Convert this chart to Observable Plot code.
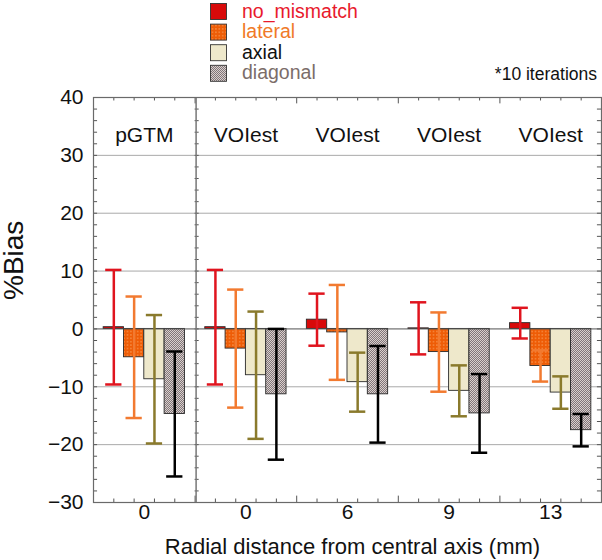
<!DOCTYPE html>
<html><head><meta charset="utf-8">
<script src="https://cdn.jsdelivr.net/npm/d3@7"></script>
<script src="https://cdn.jsdelivr.net/npm/@observablehq/plot@0.6"></script>
<style>
body{margin:0;background:#fff;font-family:"Liberation Sans",Arial,Helvetica,sans-serif;}
#wrap{width:602px;position:relative;}
svg{display:block;}
#head svg{overflow:visible;position:relative;z-index:2;}
</style></head><body>
<svg width="0" height="0" style="position:absolute">
  <defs>
    <pattern id="pLat" width="3.4" height="3.4" patternUnits="userSpaceOnUse">
      <rect width="3.4" height="3.4" fill="#ee5c06"/>
      <circle cx="1.7" cy="1.7" r="0.65" fill="#fbb57a"/>
    </pattern>
    <pattern id="pDiag" width="2" height="2" patternUnits="userSpaceOnUse">
      <rect width="2" height="2" fill="#d9d0cc"/>
      <rect width="1" height="1" fill="#81757a"/>
      <rect x="1" y="1" width="1" height="1" fill="#81757a"/>
    </pattern>
  </defs>
</svg>
<div id="wrap"><div id="head"></div><div id="chart"></div></div>
<script>
// ---- data ----
const groups = ["0", "0", "6", "9", "13"];
const methods = ["pGTM", "VOIest", "VOIest", "VOIest", "VOIest"];
const series = ["no_mismatch", "lateral", "axial", "diagonal"];
const mean_no_mismatch = [0.3, 0.3, 1.6, 0.1, 1.0];
const sd_no_mismatch   = [9.9, 9.9, 4.5, 4.5, 2.65];
const mean_lateral = [-4.9, -3.4, -0.6, -4.0, -6.4];
const sd_lateral   = [10.5, 10.2, 8.2, 6.85, 2.7];
const mean_axial = [-8.7, -8.0, -9.2, -10.7, -11.0];
const sd_axial   = [11.1, 11.0, 5.1, 4.4, 2.8];
const mean_diagonal = [-14.7, -11.3, -11.3, -14.6, -17.5];
const sd_diagonal   = [10.8, 11.3, 8.35, 6.8, 2.8];
const yTicks = [-30, -20, -10, 0, 10, 20, 30, 40];
const note = "*10 iterations";
const xTitle = "Radial distance from central axis (mm)";
const yTitle = "%Bias";

// ---- styles ----
const fills = {no_mismatch: "#d80a0a", lateral: "url(#pLat)", axial: "#eee8cb", diagonal: "url(#pDiag)"};
const errColors = {no_mismatch: "#e0141e", lateral: "#f27a30", axial: "#8a7a2c", diagonal: "#000000"};
const legendText = {no_mismatch: "#e8192c", lateral: "#f07a28", axial: "#111111", diagonal: "#7b6d69"};

const means = {no_mismatch: mean_no_mismatch, lateral: mean_lateral, axial: mean_axial, diagonal: mean_diagonal};
const sds = {no_mismatch: sd_no_mismatch, lateral: sd_lateral, axial: sd_axial, diagonal: sd_diagonal};

const nG = groups.length, nS = series.length, slots = nS + 1;
const rows = [];
series.forEach((s, si) => groups.forEach((g, gi) => {
  rows.push({s, si, gi, c: gi * slots + si + 1, mean: means[s][gi], sd: sds[s][gi]});
}));
const xMax = nG * slots;
const yMin = d3.min(yTicks), yMax = d3.max(yTicks);
const dividers = [];
for (let i = 1; i < nG; i++) if (methods[i] !== methods[i - 1]) dividers.push(i * slots);

// ---- header (legend + note) ----
const head = d3.select("#head").append("svg").attr("width", 602).attr("height", 85);
series.forEach((s, i) => {
  const top = 3 + i * 20.6;
  head.append("rect").attr("x", 210.5).attr("y", top + 0.5).attr("width", 16).attr("height", 16)
    .attr("fill", fills[s]).attr("stroke", "#333").attr("stroke-width", 0.9);
  head.append("text").attr("x", 242).attr("y", top + 14.5).attr("font-size", 19.5)
    .attr("fill", legendText[s]).text(s);
});
head.append("text").attr("x", 597).attr("y", 80).attr("text-anchor", "end")
  .attr("font-size", 17.5).attr("fill", "#111").text(note);

// ---- chart ----
const marks = [];
// gridlines
marks.push(Plot.ruleY(yTicks.filter(v => v !== 0 && v !== yMin && v !== yMax), {stroke: "#a9a9a9", strokeWidth: 1}));
// bars
series.forEach(s => {
  marks.push(Plot.rect(rows.filter(r => r.s === s), {
    x1: r => r.c - 0.5, x2: r => r.c + 0.5, y1: 0, y2: "mean",
    fill: fills[s], stroke: "#2a2a2a", strokeWidth: 0.9
  }));
});
// zero line
marks.push(Plot.ruleY([0], {stroke: "#505050", strokeWidth: 1}));
// error bars
series.forEach(s => {
  const d = rows.filter(r => r.s === s);
  const st = {stroke: errColors[s], strokeWidth: 2.5};
  marks.push(Plot.ruleX(d, {x: "c", y1: r => r.mean - r.sd, y2: r => r.mean + r.sd, ...st}));
  marks.push(Plot.ruleY(d, {y: r => r.mean + r.sd, x1: r => r.c - 0.4, x2: r => r.c + 0.4, ...st}));
  marks.push(Plot.ruleY(d, {y: r => r.mean - r.sd, x1: r => r.c - 0.4, x2: r => r.c + 0.4, ...st}));
});
// inward ticks
const xt = d3.range(1, xMax);
const minorX = xt.filter(v => v % slots !== 0), majorX = xt.filter(v => v % slots === 0);
const tickSt = {stroke: "#555", strokeWidth: 1};
marks.push(Plot.ruleX(minorX, {x: d => d, y1: yMin, y2: yMin + 0.6, ...tickSt}));
marks.push(Plot.ruleX(minorX, {x: d => d, y1: yMax, y2: yMax - 0.6, ...tickSt}));
marks.push(Plot.ruleX(majorX, {x: d => d, y1: yMin, y2: yMin + 1.1, ...tickSt}));
marks.push(Plot.ruleX(majorX, {x: d => d, y1: yMax, y2: yMax - 1.1, ...tickSt}));
const yt = d3.range(yMin + 2, yMax, 2);
marks.push(Plot.ruleY(yt, {y: d => d, x1: 0, x2: 0.2, ...tickSt}));
marks.push(Plot.ruleY(yt, {y: d => d, x1: xMax - 0.2, x2: xMax, ...tickSt}));
dividers.forEach(dv => marks.push(Plot.ruleY(yt, {y: d => d, x1: dv, x2: dv + 0.2, ...tickSt})));
// frame + dividers
marks.push(Plot.ruleX(dividers, {x: d => d, stroke: "#777", strokeWidth: 1.5, dx: 1}));
marks.push(Plot.frame({stroke: "#6a6a6a", strokeWidth: 1.2}));
// method labels
marks.push(Plot.text(d3.range(nG), {x: i => i * slots + slots / 2, text: i => methods[i], frameAnchor: "top", dy: 30, fontSize: 21, fill: "#111"}));
// axes
marks.push(Plot.axisY({ticks: yTicks, tickSize: 0, tickPadding: 10, fontSize: 21, label: null}));
marks.push(Plot.axisX({ticks: d3.range(nG).map(i => i * slots + slots / 2), tickFormat: d => groups[Math.round((d - slots / 2) / slots)], tickSize: 0, tickPadding: 2, fontSize: 21, label: null}));
// titles
marks.push(Plot.text([xTitle], {frameAnchor: "bottom", dy: 51, dx: 5, fontSize: 22, fill: "#111"}));
marks.push(Plot.text([yTitle], {frameAnchor: "left", dx: -79, rotate: -90, fontSize: 28, fill: "#111"}));

const chart = Plot.plot({
  width: 602, height: 475,
  marginTop: 12, marginBottom: 58, marginLeft: 93, marginRight: 1,
  x: {type: "linear", domain: [0, xMax]},
  y: {domain: [yMin, yMax]},
  style: {fontFamily: "'Liberation Sans', Arial, Helvetica, sans-serif", color: "#111", background: "white", overflow: "visible"},
  marks
});
document.getElementById("chart").appendChild(chart);
</script>
</body></html>
